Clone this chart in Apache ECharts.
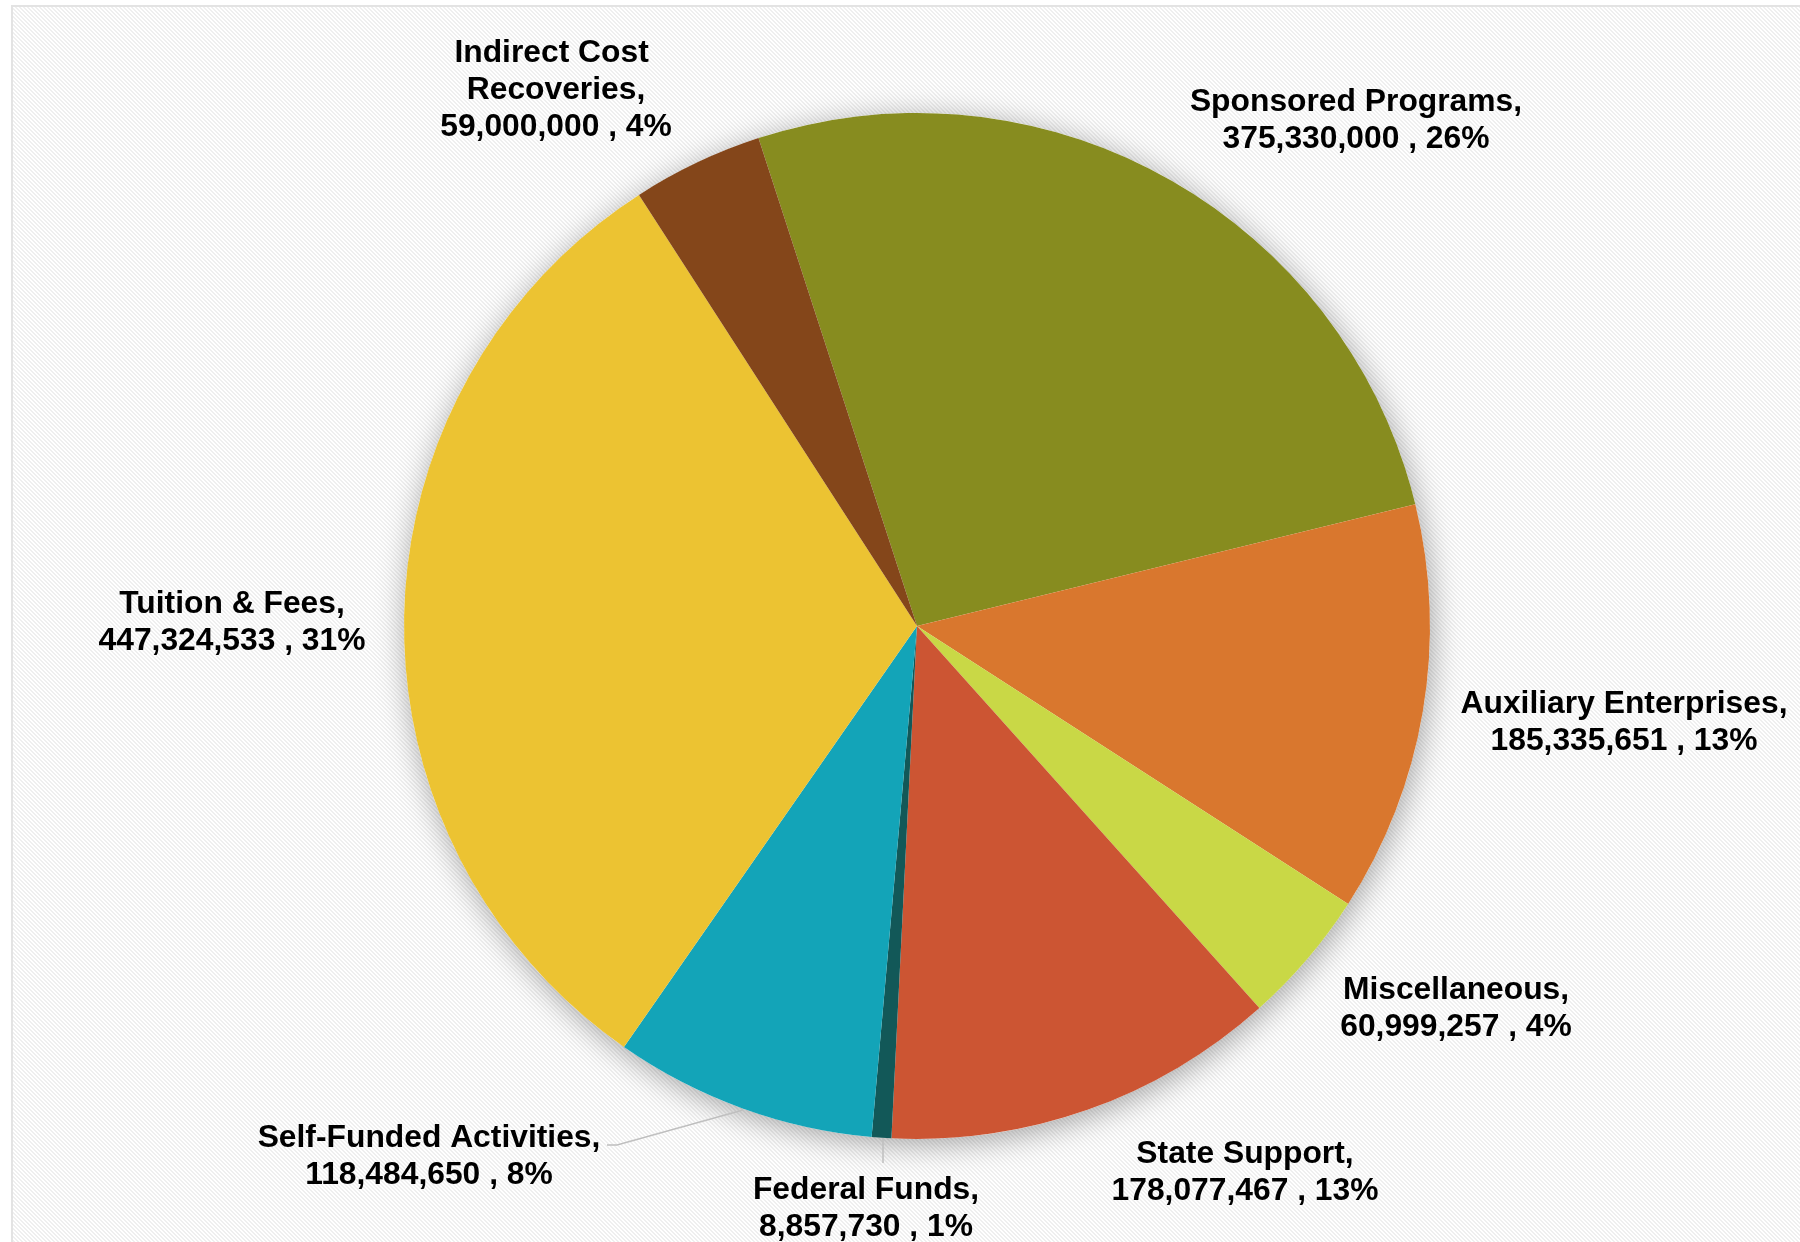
<!DOCTYPE html>
<html>
<head>
<meta charset="utf-8">
<script src="https://cdn.jsdelivr.net/npm/echarts@6/dist/echarts.min.js"></script>
<style>
  html, body { margin: 0; padding: 0; background: #fff; }
  #chart { width: 1800px; height: 1242px; }
</style>
</head>
<body>
<div id="chart"></div>
<script>
// ---- data ----
const categories = [
  'Sponsored Programs',
  'Auxiliary Enterprises',
  'Miscellaneous',
  'State Support',
  'Federal Funds',
  'Self-Funded Activities',
  'Tuition & Fees',
  'Indirect Cost Recoveries'
];
const values = [375330000, 185335651, 60999257, 178077467, 8857730, 118484650, 447324533, 59000000];
const colors = ['#878C1F', '#D9772E', '#C9D846', '#CC5533', '#125858', '#13A4B8', '#ECC332', '#84461A'];

// ---- layout (label anchor centres, leader lines) ----
const labelPos = [
  [1356, 121], [1624, 723], [1456, 1009], [1245, 1173],
  [866, 1209], [429, 1157], [232, 623], [556, 90]
];
const leaderLines = {
  4: [[883, 1138], [883, 1150], [883, 1163]],
  5: [[743, 1110], [617, 1145], [607, 1145]]
};

// striped background pattern
function makePattern() {
  const c = document.createElement('canvas');
  c.width = 4; c.height = 4;
  const ctx = c.getContext('2d');
  ctx.fillStyle = '#ffffff';
  ctx.fillRect(0, 0, 4, 4);
  ctx.fillStyle = '#efefef';
  for (let i = 0; i < 4; i++) {
    ctx.fillRect(i, i, 1, 1);
    ctx.fillRect((i + 1) % 4, i, 1, 1);
  }
  return c;
}

const chart = echarts.init(document.getElementById('chart'), null, { renderer: 'canvas' });

const data = categories.map((name, i) => {
  const item = { name: name, value: values[i], itemStyle: { color: colors[i] } };
  if (leaderLines[i]) item.labelLine = { show: true };
  if (name === 'Indirect Cost Recoveries') item.label = { width: 250, overflow: 'break' };
  return item;
});

chart.setOption({
  animation: false,
  backgroundColor: '#ffffff',
  graphic: [{
    type: 'rect',
    z: -10,
    silent: true,
    shape: { x: 12, y: 6, width: 1800, height: 1260 },
    style: { fill: { image: makePattern(), repeat: 'repeat' }, stroke: '#e3e3e3', lineWidth: 2 }
  }],
  series: [
    {
      type: 'pie',
      silent: true,
      z: 1,
      center: [917, 626],
      radius: 513,
      label: { show: false },
      labelLine: { show: false },
      itemStyle: {
        color: '#ffffff',
        shadowBlur: 30,
        shadowColor: 'rgba(0,0,0,0.35)',
        shadowOffsetX: 2,
        shadowOffsetY: 5
      },
      data: [{ value: 1, name: '' }]
    },
    {
      type: 'pie',
      z: 2,
      silent: true,
      center: [917, 626],
      radius: 513,
      startAngle: 108,
      clockwise: true,
      percentPrecision: 0,
      avoidLabelOverlap: false,
      itemStyle: { borderWidth: 0 },
      label: {
        show: true,
        position: 'outside',
        fontFamily: 'Liberation Sans, Arial, sans-serif',
        fontWeight: 'bold',
        fontSize: 31.8,
        lineHeight: 37,
        color: '#000000',
        align: 'center',
        formatter: function (p) {
          return p.name + ',\n' + p.value.toLocaleString('en-US') + ' , ' + p.percent + '%';
        }
      },
      labelLine: { show: false, lineStyle: { color: '#bfbfbf', width: 1.5 } },
      labelLayout: function (params) {
        const pos = labelPos[params.dataIndex];
        const res = { x: pos[0], y: pos[1], align: 'center', verticalAlign: 'middle' };
        if (leaderLines[params.dataIndex]) res.labelLinePoints = leaderLines[params.dataIndex];
        return res;
      },
      data: data
    }
  ]
});
</script>
</body>
</html>
